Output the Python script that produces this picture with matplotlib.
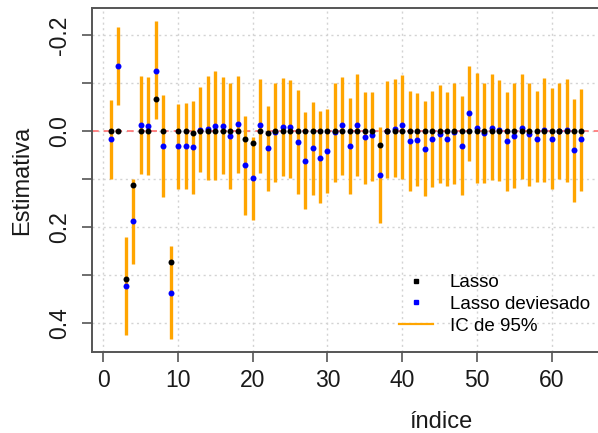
import matplotlib
matplotlib.use("Agg")
import matplotlib.pyplot as plt
import numpy as np
from matplotlib.lines import Line2D

plt.rcParams['font.family'] = ['Liberation Sans', 'DejaVu Sans']

indice = list(range(1, 65))

lasso = [0, 0, 0.308, 0.113, 0, 0, -0.067, 0, 0.272, 0,
         0, 0.005, 0, 0, 0, 0, 0, 0, 0.016, 0.025,
         0, 0.0035, 0, 0, 0, 0, 0, 0, 0, 0,
         0, 0, 0, 0, 0, 0, 0.029, 0, 0, 0,
         0, 0, 0, 0, 0, 0, 0, 0, 0, 0,
         0, 0, 0, 0, 0, 0, 0, 0, 0, 0,
         0, 0, 0, 0]

lasso_deviesado = [0.017, -0.135, 0.322, 0.188, -0.0125, -0.011, -0.126, 0.031, 0.337, 0.031,
                   0.031, 0.033, -0.002, -0.005, -0.010, -0.011, 0.011, -0.015, 0.071, 0.098,
                   -0.013, 0.035, 0.003, -0.009, -0.009, 0.022, 0.062, 0.035, 0.056, 0.042,
                   0.002, -0.012, 0.031, -0.012, 0.013, 0.009, 0.091, 0.0, -0.004, -0.013,
                   0.020, 0.019, 0.0375, 0.016, 0.0055, 0.016, 0.002, 0.031, -0.0375, -0.007,
                   0.005, -0.007, -0.002, 0.020, 0.011, -0.0055, 0.007, 0.017, -0.002, 0.016,
                   0.0, -0.002, 0.040, 0.017]

ic_inf = [-0.065, -0.217, 0.220, 0.100, -0.115, -0.1125, -0.230, -0.075, 0.240, -0.056,
          -0.058, -0.0625, -0.091, -0.115, -0.124, -0.1125, -0.099, -0.115, -0.031, 0.013,
          -0.108, -0.053, -0.101, -0.111, -0.106, -0.085, -0.039, -0.060, -0.041, -0.045,
          -0.100, -0.113, -0.069, -0.118, -0.082, -0.082, -0.009, -0.104, -0.108, -0.116,
          -0.084, -0.080, -0.062, -0.084, -0.096, -0.082, -0.101, -0.073, -0.135, -0.120,
          -0.099, -0.118, -0.106, -0.082, -0.099, -0.118, -0.099, -0.084, -0.111, -0.089,
          -0.099, -0.108, -0.067, -0.087]

ic_sup = [0.100, -0.054, 0.424, 0.278, 0.090, 0.092, -0.024, 0.137, 0.434, 0.121,
          0.121, 0.132, 0.086, 0.103, 0.102, 0.090, 0.121, 0.088, 0.174, 0.185,
          0.088, 0.125, 0.106, 0.094, 0.097, 0.132, 0.1625, 0.134, 0.149, 0.130,
          0.106, 0.092, 0.132, 0.094, 0.111, 0.1035, 0.191, 0.097, 0.095, 0.099,
          0.126, 0.115, 0.135, 0.117, 0.109, 0.114, 0.110, 0.133, 0.0625, 0.108,
          0.109, 0.102, 0.1035, 0.124, 0.119, 0.099, 0.114, 0.106, 0.106, 0.121,
          0.1005, 0.107, 0.147, 0.125]

x_ticks = [0, 10, 20, 30, 40, 50, 60]
y_ticks = [-0.2, -0.1, 0.0, 0.1, 0.2, 0.3, 0.4]
y_ticklabels = ['-0.2', '', '0.0', '', '0.2', '', '0.4']

W, H = 598, 433
fig = plt.figure(figsize=(W / 100, H / 100), dpi=100)
ax = fig.add_axes([92 / W, (H - 352.3) / H, 508.3 / W, 344.8 / H])

ax.set_xlim(-1.52, 66.52)
ax.set_ylim(0.461, -0.2573)

ax.set_xticks(x_ticks)
ax.set_yticks(y_ticks)
ax.set_yticklabels(y_ticklabels)
ax.grid(True, color='#D3D3D3', linestyle=(0, (1.5, 2.5)), linewidth=1.0)
ax.set_axisbelow(True)

ax.axhline(0, color='#FF6F6F', linestyle=(0, (4, 3)), linewidth=1.2, zorder=1)

ax.vlines(indice, ic_inf, ic_sup, color='#FFA500', linewidth=2.4, zorder=2)
ax.plot(indice, lasso_deviesado, 'o', color='#0000FF', markersize=4.3,
        markeredgewidth=0, zorder=3)
ax.plot(indice, lasso, 'o', color='black', markersize=4.3,
        markeredgewidth=0, zorder=4)

for s in ax.spines.values():
    s.set_color('#555555')
    s.set_linewidth(1.4)

ax.tick_params(axis='both', which='major', length=7, width=1.2, color='#555555',
               labelsize=16.5, labelcolor='#1a1a1a')
ax.tick_params(axis='x', pad=5)
ax.tick_params(axis='y', pad=8, labelrotation=90)
for lab in ax.get_yticklabels():
    lab.set_va('center')

ax.set_xlabel('índice', fontsize=17, color='#1a1a1a')
ax.set_ylabel('Estimativa', fontsize=17, color='#1a1a1a')
ax.xaxis.set_label_coords((510 - 92) / 508.3 * 0 + (441 - 92) / 508.3, (352.3 - 422) / 344.8)
ax.yaxis.set_label_coords((22 - 92) / 508.3, 0.5)
ax.xaxis.label.set_va('center')
ax.yaxis.label.set_va('center')

handles = [
    Line2D([], [], marker='s', color='black', linestyle='None', markersize=3.2),
    Line2D([], [], marker='s', color='#0000FF', linestyle='None', markersize=3.2),
    Line2D([], [], color='#FFA500', linewidth=1.6),
]
ax.legend(handles, ['Lasso', 'Lasso deviesado', 'IC de 95%'],
          loc='upper left', bbox_to_anchor=((399 - 92) / 508.3, (352.3 - 274) / 344.8),
          frameon=False, fontsize=13.5, borderpad=0, handlelength=1.8,
          handletextpad=0.9, labelspacing=0.25, borderaxespad=0)

fig.savefig('out.png', dpi=100)
